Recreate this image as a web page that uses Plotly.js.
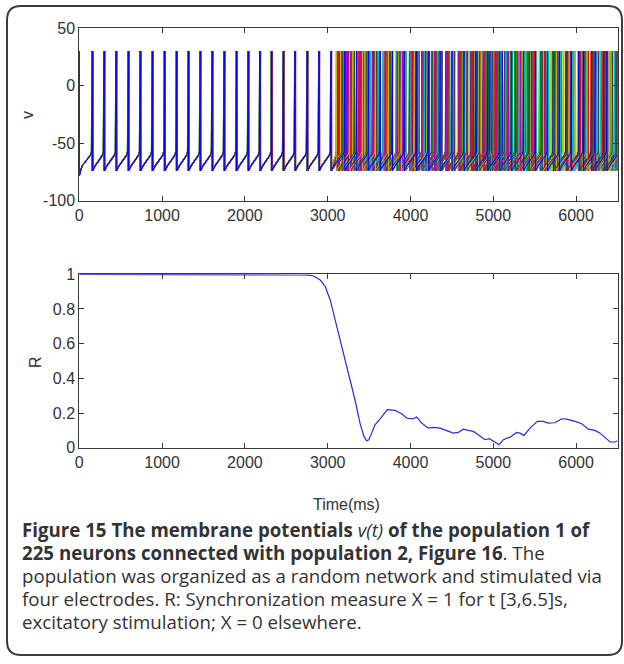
<!DOCTYPE html>
<html><head><meta charset="utf-8">
<script src="https://cdn.plot.ly/plotly-3.0.1.min.js"></script>
<style>html,body{margin:0;padding:0;background:#fff}#chart{width:624px;height:664px}</style>
</head><body><div id="chart"></div>
<script>
// ---------- data ----------
const xTicks = [0, 1000, 2000, 3000, 4000, 5000, 6000];
const vTicks = [-100, -50, 0, 50];
const vTickText = ['-100', '-50', '0', '50'];
const rTicks = [0, 0.2, 0.4, 0.6, 0.8, 1];
const rTickText = ['0', '0.2', '0.4', '0.6', '0.8', '1'];

// synchronized spikes (ms), phase 1
const syncSpikes = [157, 300, 445, 592, 736, 882, 1030, 1175, 1317, 1460, 1605, 1750, 1898, 2040, 2182, 2323, 2464, 2605, 2752, 2895, 3040];
// per-neuron lag around the synchronized spikes (ms)
const syncLag = [0, 4, 8, -3, 5, -4, 2, 3, -5, 6, 2, -2, 4, 1, -4, 7, 3, -2, 5, -3, 1, 0];
// MATLAB colour order b g r c m y k
const neuronColors = ['#0000ff','#00a000','#ff0000','#00bfbf','#bf00bf','#bfbf00','#404040',
                      '#0000ff','#00a000','#ff0000','#00bfbf','#bf00bf','#bfbf00','#404040',
                      '#0000ff','#00a000','#ff0000','#00bfbf','#bf00bf','#bfbf00','#404040','#0000ff'];
// asynchronous spikes (ms), phase 2
const denseSpikes = [
 [3105,3251,3400,3547,3696,3843,3992,4139,4288,4436,4583,4732,4879,5028,5176,5323,5472,5620,5767,5916,6063,6212,6360],
 [3142,3302,3464,3625,3785,3947,4108,4268,4430,4591,4751,4913,5074,5234,5396,5557,5717,5879,6040,6200,6362],
 [3178,3321,3464,3606,3750,3893,4035,4179,4322,4464,4608,4751,4893,5037,5180,5322,5466,5609,5751,5895,6038,6180,6324,6467],
 [3121,3278,3436,3592,3750,3907,4063,4221,4378,4534,4692,4849,5005,5163,5320,5476,5634,5791,5947,6105,6262,6418],
 [3229,3380,3533,3684,3837,3988,4141,4292,4445,4596,4749,4900,5053,5204,5357,5508,5661,5812,5965,6116,6269,6420],
 [3196,3362,3529,3694,3861,4026,4193,4358,4525,4690,4857,5022,5189,5354,5521,5686,5853,6018,6185,6350],
 [3133,3278,3424,3569,3715,3860,4006,4151,4297,4442,4588,4733,4879,5024,5170,5315,5461,5606,5752,5897,6043,6188,6334,6479],
 [3240,3397,3557,3712,3873,4029,4190,4344,4505,4660,4822,4976,5137,5292,5454,5608,5769,5924,6086,6240,6401],
 [3112,3263,3412,3563,3712,3863,4012,4163,4312,4463,4612,4763,4912,5063,5212,5363,5512,5663,5812,5963,6112,6263,6412],
 [3215,3377,3541,3703,3867,4029,4193,4355,4519,4681,4845,5007,5171,5333,5497,5659,5823,5985,6149,6311,6475],
 [3170,3316,3464,3610,3758,3904,4052,4198,4346,4492,4640,4786,4934,5080,5228,5374,5522,5668,5816,5962,6110,6256,6404],
 [3128,3282,3438,3592,3748,3902,4058,4212,4368,4522,4678,4832,4988,5142,5298,5452,5608,5762,5918,6072,6228,6382],
 [3155,3296,3438,3579,3721,3862,4004,4145,4287,4428,4570,4711,4853,4994,5136,5277,5419,5560,5702,5843,5985,6126,6268,6409],
 [3250,3418,3586,3754,3922,4090,4258,4426,4594,4762,4930,5098,5266,5434,5602,5770,5938,6106,6274,6442],
 [3117,3270,3424,3577,3731,3884,4038,4191,4345,4498,4652,4805,4959,5112,5266,5419,5573,5726,5880,6033,6187,6340,6494],
 [3192,3351,3510,3669,3828,3987,4146,4305,4464,4623,4782,4941,5100,5259,5418,5577,5736,5895,6054,6213,6372],
 [3138,3284,3430,3576,3722,3868,4014,4160,4306,4452,4598,4744,4890,5036,5182,5328,5474,5620,5766,5912,6058,6204,6350,6496],
 [3183,3347,3511,3675,3839,4003,4167,4331,4495,4659,4823,4987,5151,5315,5479,5643,5807,5971,6135,6299,6463],
 [3246,3395,3544,3693,3842,3991,4140,4289,4438,4587,4736,4885,5034,5183,5332,5481,5630,5779,5928,6077,6226,6375],
 [3109,3265,3421,3577,3733,3889,4045,4201,4357,4513,4669,4825,4981,5137,5293,5449,5605,5761,5917,6073,6229,6385],
 [3174,3325,3476,3627,3778,3929,4080,4231,4382,4533,4684,4835,4986,5137,5288,5439,5590,5741,5892,6043,6194,6345,6496],
 [3206,3350,3494,3638,3782,3926,4070,4214,4358,4502,4646,4790,4934,5078,5222,5366,5510,5654,5798,5942,6086,6230,6374]
];
// membrane potential shape between two spikes (fraction of the interval -> mV)
const rampPhase = [0, 0.2, 0.45, 0.7, 0.88, 0.96];
const rampV = [-74, -70, -66.5, -63, -60, -57];
const peakV = 30;
const initV = -78;

// synchronization measure R
const rTime = [0,1700,1750,2650,2780,2830,2910,2970,3030,3090,3150,3210,3270,3330,3390,3437,3470,3498,3531,3571,3631,3720,3813,3893,3962,4034,4074,4135,4215,4275,4356,4437,4517,4577,4638,4698,4758,4819,4899,4951,5000,5072,5121,5202,5282,5322,5371,5443,5532,5604,5664,5745,5826,5886,5987,6068,6148,6229,6289,6349,6410,6470,6500];
const rValue = [1,1,0.997,0.996,0.995,0.99,0.967,0.93,0.852,0.737,0.62,0.505,0.39,0.275,0.142,0.065,0.04,0.046,0.084,0.132,0.165,0.219,0.215,0.196,0.169,0.167,0.177,0.142,0.113,0.117,0.113,0.1,0.084,0.088,0.107,0.1,0.094,0.075,0.046,0.052,0.036,0.017,0.046,0.061,0.088,0.084,0.071,0.113,0.152,0.152,0.142,0.144,0.167,0.165,0.152,0.138,0.107,0.1,0.084,0.056,0.033,0.033,0.04];

// ---------- build ----------
const X_MAX = 6500;
function neuronTrace(i) {
  const spikes = syncSpikes.map(s => s + syncLag[i]).concat(denseSpikes[i]);
  const x = [0], y = [peakV];
  let prev = 0;
  for (let k = 0; k < spikes.length; k++) {
    const s = spikes[k], isi = s - prev;
    for (let j = 0; j < rampPhase.length; j++) {
      x.push(prev + 1 + rampPhase[j] * (isi - 2));
      y.push(k === 0 && j === 0 ? initV : rampV[j]);
    }
    x.push(s); y.push(peakV);
    prev = s;
  }
  const lastIsi = spikes[spikes.length - 1] - spikes[spikes.length - 2];
  for (let j = 0; j < rampPhase.length; j++) {
    const t = prev + 1 + rampPhase[j] * (lastIsi - 2);
    if (t > X_MAX) break;
    x.push(t); y.push(rampV[j]);
  }
  return {type:'scatter', mode:'lines', x, y, xaxis:'x', yaxis:'y',
          line:{color:neuronColors[i], width:1}, hoverinfo:'skip'};
}
const traces = [];
for (let i = 0; i < neuronColors.length; i++) traces.push(neuronTrace(i));
traces.push({type:'scatter', mode:'lines', x:rTime, y:rValue, xaxis:'x2', yaxis:'y2',
             line:{color:'#2a2ad8', width:1.2}, hoverinfo:'skip'});

const tickFont = {family:'Liberation Sans, Arial, sans-serif', size:16, color:'#333'};
const axisBase = {showline:true, linecolor:'#3a3a3a', linewidth:1, mirror:'ticks',
  ticks:'inside', ticklen:5, tickcolor:'#3a3a3a', tickwidth:1, showgrid:false,
  zeroline:false, tickfont:tickFont, fixedrange:true};
const W = 624, H = 664;
const px = v => v / W, py = v => 1 - v / H;

const capFont = {family:'Open Sans, sans-serif', size:18.7, color:'#333'};
const capLines = [
  '<b>Figure 15 The membrane potentials </b><i>v(t)</i><b> of the population 1 of</b>',
  '<b>225 neurons connected with population 2, Figure 16</b>. The',
  'population was organized as a random network and stimulated via',
  'four electrodes. R: Synchronization measure X = 1 for t [3,6.5]s,',
  'excitatory stimulation; X = 0 elsewhere.'
];
const capY = [529, 552, 575, 598, 621];
const labFont = {family:'Liberation Sans, Arial, sans-serif', size:16, color:'#333'};
const annotations = [
  {text:'v', x:px(28), y:py(115), xref:'paper', yref:'paper', xanchor:'center', yanchor:'middle',
   showarrow:false, textangle:-90, font:labFont},
  {text:'R', x:px(35), y:py(362), xref:'paper', yref:'paper', xanchor:'center', yanchor:'middle',
   showarrow:false, textangle:-90, font:labFont},
  {text:'Time(ms)', x:px(346), y:py(504), xref:'paper', yref:'paper', xanchor:'center', yanchor:'middle',
   showarrow:false, font:{family:'Liberation Sans, Arial, sans-serif', size:16, color:'#333'}}
];
capLines.forEach((t, k) => annotations.push({text:t, x:px(20), y:py(capY[k]), xref:'paper', yref:'paper',
  xanchor:'left', yanchor:'middle', showarrow:false, font:capFont}));

// rounded frame
const L = 7, R = 622, T = 6, B = 655, r = 14;
const framePath = `M ${px(L+r)},${py(T)} L ${px(R-r)},${py(T)} Q ${px(R)},${py(T)} ${px(R)},${py(T+r)} ` +
  `L ${px(R)},${py(B-r)} Q ${px(R)},${py(B)} ${px(R-r)},${py(B)} L ${px(L+r)},${py(B)} ` +
  `Q ${px(L)},${py(B)} ${px(L)},${py(B-r)} L ${px(L)},${py(T+r)} Q ${px(L)},${py(T)} ${px(L+r)},${py(T)} Z`;

const layout = {
  width:W, height:H, margin:{l:0, r:0, t:0, b:0}, paper_bgcolor:'#fff', plot_bgcolor:'#fff',
  showlegend:false, hovermode:false,
  xaxis:Object.assign({}, axisBase, {domain:[px(79.3), px(617.5)], range:[0, 6500], tickvals:xTicks, anchor:'y'}),
  yaxis:Object.assign({}, axisBase, {domain:[py(200.7), py(28)], range:[-100, 50], tickvals:vTicks, ticktext:vTickText, anchor:'x'}),
  xaxis2:Object.assign({}, axisBase, {domain:[px(79.3), px(617.5)], range:[0, 6500], tickvals:xTicks, anchor:'y2'}),
  yaxis2:Object.assign({}, axisBase, {domain:[py(447.7), py(274.3)], range:[0, 1], tickvals:rTicks, ticktext:rTickText, anchor:'x2'}),
  annotations,
  shapes:[{type:'path', xref:'paper', yref:'paper', path:framePath, line:{color:'#3c3c3c', width:2}, fillcolor:'rgba(0,0,0,0)'}]
};
Plotly.newPlot('chart', traces, layout, {staticPlot:true, displayModeBar:false});
</script></body></html>
